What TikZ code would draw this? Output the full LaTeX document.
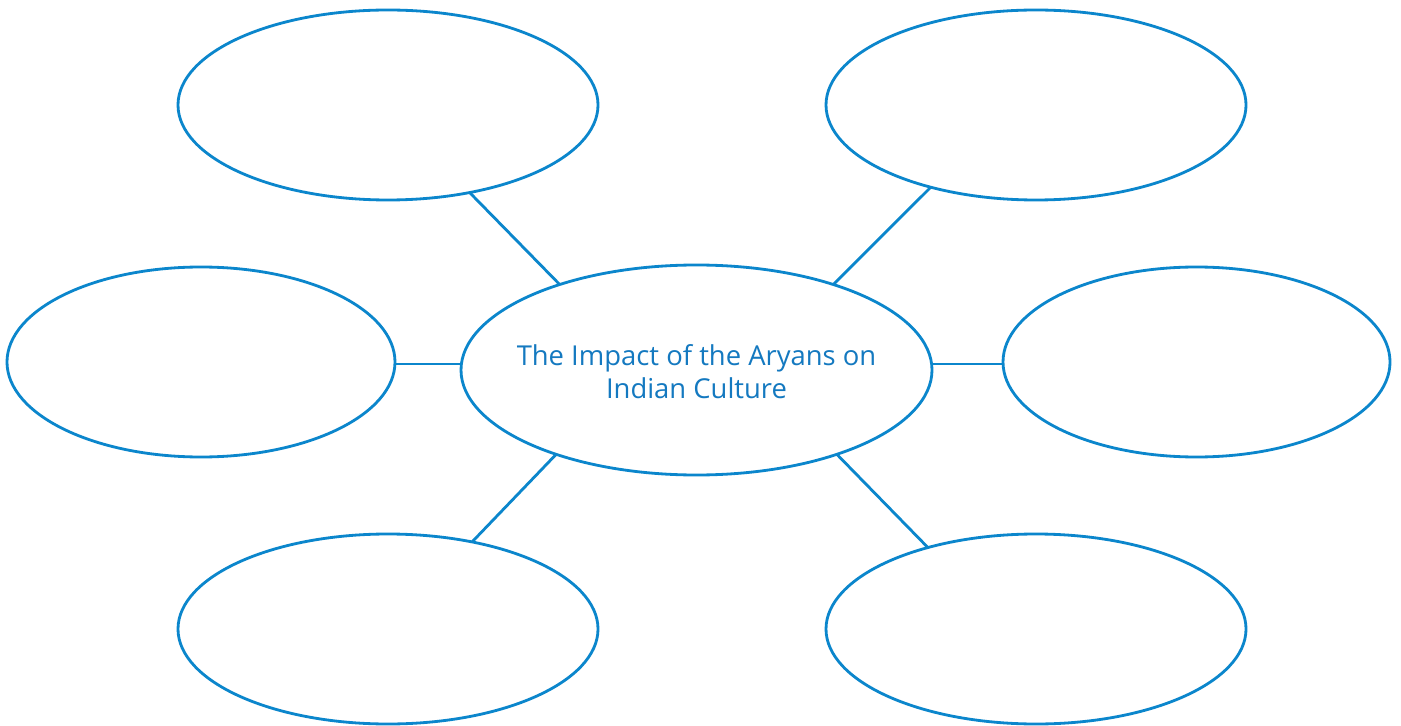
\documentclass[tikz,border=0pt]{standalone}
\usepackage{fontspec}
\setmainfont{Open Sans}
\usetikzlibrary{shapes.geometric}
\definecolor{linie}{HTML}{0B86CC}
\definecolor{schrift}{HTML}{1479C0}
\tikzset{
	blase/.style={ellipse, draw=linie, line width=0.8pt, inner sep=0pt, outer sep=0pt, fill=white},
	verb/.style={draw=linie, line width=0.8pt},
	titel/.style={text=schrift, align=center, font=\fontsize{7.8}{9.4}\selectfont}
}
\begin{document}
\begin{tikzpicture}
\useasboundingbox (0,0) rectangle (14.01,-7.25);
\fill [white] (0,0) rectangle (14.01,-7.25);
% Mitte:
	\node [blase, minimum width=4.71cm, minimum height=2.10cm,
		label={[titel, yshift=-0.2mm]center:{The Impact of the Aryans on\\Indian Culture}}] (mitte) at (6.965,-3.70) {};
% Ellipsen:
	\node [blase, minimum width=4.20cm, minimum height=1.90cm] (ol) at (3.88,-1.05) {};
	\node [blase, minimum width=4.20cm, minimum height=1.90cm] (or) at (10.36,-1.05) {};
	\node [blase, minimum width=3.88cm, minimum height=1.90cm] (ml) at (2.01,-3.62) {};
	\node [blase, minimum width=3.87cm, minimum height=1.90cm] (mr) at (11.965,-3.62) {};
	\node [blase, minimum width=4.20cm, minimum height=1.90cm] (ul) at (3.88,-6.29) {};
	\node [blase, minimum width=4.20cm, minimum height=1.90cm] (ur) at (10.36,-6.29) {};
% Linien:
	\draw [verb] (mitte.148) -- (ol.-47);
	\draw [verb] (mitte.32) -- (or.-142);
	\draw [verb] (ml.east |- 0,-3.64) -- (mitte.west |- 0,-3.64);
	\draw [verb] (mr.west |- 0,-3.64) -- (mitte.east |- 0,-3.64);
	\draw [verb] (mitte.211) -- (ul.46);
	\draw [verb] (mitte.-31) -- (ur.143);
\end{tikzpicture}
\end{document}
